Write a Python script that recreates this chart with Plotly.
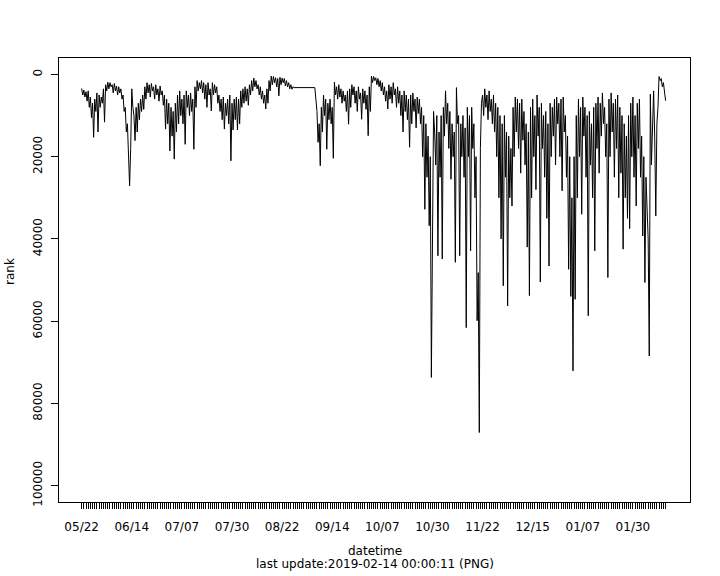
import pandas as pd
import plotly.graph_objects as go

# Rank readings (in thousands), two readings per day (00:00, 12:00)
# Part 1: 2018-05-22 .. 2018-08-27 12:00
rank_k_part1 = [
    3.4, 5.0, 3.8, 5.5, 4.2, 6.5, 4.0, 8.0, 5.5, 10.5,
    7.0, 15.3, 6.0, 9.0, 4.5, 14.0, 5.0, 8.0, 5.5, 7.0,
    3.5, 11.6, 2.5, 4.0, 1.9, 3.5, 2.0, 3.0, 2.5, 4.5,
    2.2, 4.0, 2.8, 5.0, 3.0, 4.5, 3.5, 6.0, 5.0, 9.0,
    8.0, 14.0, 12.0, 21.0, 27.1, 18.0, 3.5, 8.0, 10.0, 16.1,
    8.0, 14.0, 7.0, 11.0, 6.0, 9.0, 5.0, 8.5, 3.0, 6.0,
    2.0, 4.5, 2.5, 5.5, 2.2, 4.0, 3.0, 6.0, 2.5, 5.0,
    3.5, 6.5, 2.8, 5.0, 4.0, 7.5, 5.0, 13.3, 6.0, 12.0,
    7.0, 18.6, 8.0, 15.0, 9.0, 20.6, 7.0, 14.0, 5.0, 12.0,
    4.0, 10.0, 6.0, 12.0, 5.0, 17.0, 4.0, 8.0, 5.0, 10.0,
    4.5, 9.0, 6.0, 18.2, 3.0, 8.0, 1.5, 4.0, 2.0, 3.5,
    1.5, 4.5, 2.0, 6.0, 2.5, 8.0, 2.0, 5.0, 3.5, 8.9,
    2.0, 5.0, 2.5, 4.5, 3.0, 7.0, 5.0, 9.0, 6.0, 11.0,
    5.5, 13.3, 7.0, 10.0, 6.0, 12.0, 5.0, 21.0, 7.0, 13.5,
    6.0, 11.0, 5.5, 13.5, 6.0, 12.0, 4.0, 8.0, 3.5, 7.0,
    3.0, 6.5, 3.5, 7.5, 2.5, 5.0, 1.5, 4.0, 0.9, 3.0,
    1.5, 3.5, 2.5, 5.0, 3.0, 6.0, 4.0, 7.0, 5.0, 8.4,
    3.5, 7.0, 1.5, 4.0, 0.4, 2.5, 0.5, 2.0, 0.8, 3.0,
    1.0, 5.2, 0.7, 2.5, 0.9, 2.0, 1.0, 2.8, 1.5, 3.0,
    2.0, 3.5, 2.5, 3.6, 3.0, 3.2,
]
# Part 2: 2018-09-06 .. 2019-02-14 (after the data gap)
rank_k_part2 = [
    3.2, 6.0, 9.0, 16.5, 12.0, 22.2, 8.0, 14.0, 5.0, 10.0,
    6.0, 18.2, 7.0, 11.0, 6.0, 12.0, 8.0, 20.4, 1.9, 5.0,
    3.0, 6.0, 2.5, 5.5, 3.5, 7.0, 4.0, 6.5, 5.0, 9.0,
    4.0, 12.1, 3.5, 8.0, 2.5, 5.0, 3.0, 7.0, 4.0, 9.0,
    3.0, 6.0, 4.5, 10.9, 3.5, 7.0, 4.0, 8.5, 5.0, 14.9,
    3.0, 9.0, 0.4, 2.0, 0.5, 1.5, 0.8, 2.5, 1.0, 3.0,
    1.5, 4.0, 2.0, 5.0, 3.0, 6.5, 4.0, 8.4, 2.5, 6.0,
    3.0, 7.0, 2.0, 5.0, 3.5, 8.0, 3.0, 7.0, 4.0, 10.0,
    5.0, 14.0, 4.0, 9.0, 5.0, 11.0, 6.0, 17.7, 5.0, 12.0,
    4.5, 9.0, 6.0, 13.0, 5.5, 9.5, 6.0, 12.0, 8.0, 20.0,
    10.0, 32.8, 12.0, 25.0, 15.0, 36.8, 20.0, 73.7, 30.0, 9.0,
    14.0, 22.0, 10.0, 44.1, 14.0, 25.0, 10.0, 44.9, 8.0, 15.0,
    4.0, 12.0, 7.0, 18.0, 9.0, 25.5, 12.0, 20.0, 14.0, 45.7,
    3.2, 12.0, 10.0, 44.1, 12.0, 20.0, 10.0, 25.0, 13.0, 61.6,
    8.0, 20.0, 10.0, 42.9, 8.0, 18.0, 12.0, 30.0, 20.0, 59.9,
    48.2, 87.1, 18.0, 7.0, 5.0, 10.0, 3.5, 8.0, 5.0, 11.0,
    4.0, 9.0, 6.0, 12.0, 5.0, 14.0, 7.0, 20.0, 8.0, 30.0,
    10.0, 40.0, 12.0, 51.4, 10.0, 25.0, 14.0, 56.3, 15.0, 30.0,
    18.0, 32.0, 8.0, 20.0, 5.5, 14.0, 6.0, 18.0, 7.0, 24.0,
    6.0, 16.0, 9.0, 22.0, 12.0, 42.0, 14.0, 53.8, 8.0, 30.0,
    6.0, 20.0, 10.0, 28.0, 5.0, 15.0, 8.0, 50.5, 7.0, 18.0,
    10.0, 25.0, 9.0, 35.0, 12.0, 46.6, 7.0, 20.0, 8.0, 15.0,
    6.0, 22.0, 5.5, 12.0, 7.0, 20.0, 6.0, 28.3, 5.5, 14.0,
    10.0, 25.0, 15.0, 47.4, 20.0, 54.0, 30.0, 72.1, 20.0, 54.7,
    10.0, 30.0, 6.0, 20.0, 8.0, 34.0, 5.5, 15.0, 8.0, 25.0,
    10.0, 58.7, 9.0, 22.0, 12.0, 30.0, 8.0, 42.9, 7.0, 18.0,
    5.5, 24.0, 7.0, 15.0, 4.5, 12.0, 8.0, 20.0, 12.0, 49.4,
    6.0, 20.0, 4.5, 14.0, 7.0, 25.0, 6.0, 18.0, 5.0, 30.0,
    8.0, 24.0, 10.0, 42.5, 12.0, 30.0, 15.0, 35.0, 10.0, 37.5,
    7.0, 20.0, 5.5, 25.0, 10.0, 32.0, 7.0, 18.0, 6.0, 25.0,
    15.0, 39.3, 20.0, 50.6, 25.0, 35.0, 40.0, 68.5, 4.8, 22.0,
    12.9, 4.0, 15.0, 34.4, 12.0, 8.0, 0.5, 1.5, 1.0, 3.0,
    2.0, 4.5, 6.4,
]
part1_start = "2018-05-22 00:00"
part2_start = "2018-09-06 00:00"
sample_step = "12h"

y_tick_values = [0, 20000, 40000, 60000, 80000, 100000]
x_tick_labels = ["05/22", "06/14", "07/07", "07/30", "08/22", "09/14",
                 "10/07", "10/30", "11/22", "12/15", "01/07", "01/30"]
first_day = "2018-05-22"
last_day = "2019-02-14"
label_every_days = 23

t1 = pd.date_range(part1_start, periods=len(rank_k_part1), freq=sample_step)
t2 = pd.date_range(part2_start, periods=len(rank_k_part2), freq=sample_step)
times = list(t1) + list(t2)
ranks = [v * 1000 for v in rank_k_part1 + rank_k_part2]

days = pd.date_range(first_day, last_day, freq="D")
tick_text = []
for i, d in enumerate(days):
    if i % label_every_days == 0 and i // label_every_days < len(x_tick_labels):
        tick_text.append(x_tick_labels[i // label_every_days])
    else:
        tick_text.append("")

FONT = "DejaVu Sans"
fig = go.Figure()
fig.add_trace(go.Scatter(x=times, y=ranks, mode="lines",
                         line=dict(color="black", width=1), showlegend=False))

W, H = 720, 576
L, R, T, B = 59, 690, 58, 502
fig.update_layout(
    width=W, height=H,
    margin=dict(l=L, r=W - R, t=T, b=H - B, pad=0),
    paper_bgcolor="white", plot_bgcolor="white",
    font=dict(family=FONT, size=12, color="black"),
    xaxis=dict(
        type="date",
        range=["2018-05-11 14:24", "2019-02-25 04:48"],
        tickmode="array", tickvals=list(days), ticktext=tick_text,
        ticks="outside", ticklen=6, tickwidth=1, tickcolor="black",
        showgrid=False, zeroline=False,
        showline=True, mirror=True, linecolor="black", linewidth=1,
        tickfont=dict(family=FONT, size=12, color="black"),
        ticklabelstandoff=8, automargin=False,
    ),
    yaxis=dict(
        range=[104000, -4000],
        tickmode="array", tickvals=y_tick_values,
        ticktext=[str(v) for v in y_tick_values],
        tickangle=-90,
        ticks="outside", ticklen=7, tickwidth=1, tickcolor="black",
        showgrid=False, zeroline=False,
        showline=True, mirror=True, linecolor="black", linewidth=1,
        tickfont=dict(family=FONT, size=12, color="black"),
        ticklabelstandoff=4, automargin=False,
    ),
)

def px_x(px):
    return (px - L) / (R - L)

def px_y(py):
    return (B - py) / (B - T)

fig.add_annotation(text="rank", x=px_x(10), y=px_y(272), xref="paper", yref="paper",
                   textangle=-90, showarrow=False, xanchor="center", yanchor="middle",
                   font=dict(family=FONT, size=12, color="black"))
fig.add_annotation(text="datetime", x=px_x(374.5), y=px_y(551), xref="paper", yref="paper",
                   showarrow=False, xanchor="center", yanchor="middle",
                   font=dict(family=FONT, size=12, color="black"))
fig.add_annotation(text="last update:2019-02-14 00:00:11 (PNG)", x=px_x(374.5), y=px_y(564),
                   xref="paper", yref="paper",
                   showarrow=False, xanchor="center", yanchor="middle",
                   font=dict(family=FONT, size=12, color="black"))

fig.write_html("out.html", config={"displayModeBar": False},
               post_script="document.body.style.margin='0';document.body.style.padding='0';")
